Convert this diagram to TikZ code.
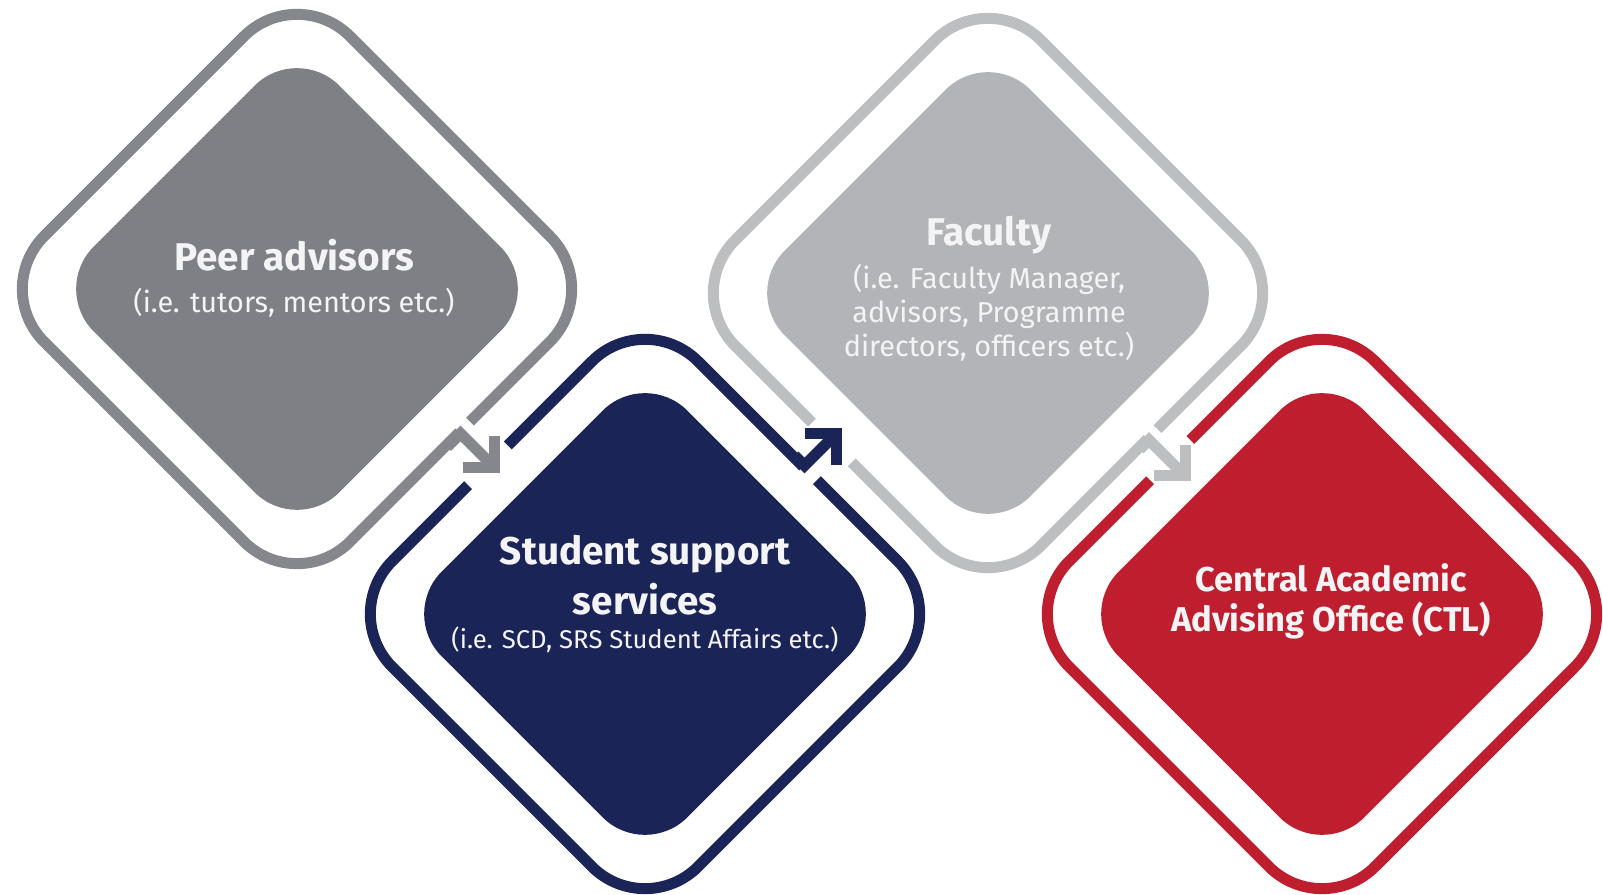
\documentclass[tikz,border=0pt]{standalone}
\usepackage{fontspec}
\setmainfont{Fira Sans}
\usetikzlibrary{shapes.geometric,arrows.meta}
\definecolor{peergray}{HTML}{7E8086}
\definecolor{peerring}{HTML}{85878C}
\definecolor{sssnavy}{HTML}{1B2456}
\definecolor{facgray}{HTML}{B2B4B7}
\definecolor{facring}{HTML}{BCBEC0}
\definecolor{ctlred}{HTML}{BE1E2D}
\definecolor{boxwhite}{HTML}{F4F4F6}
\newcommand\boxhead[1]{{\bfseries\fontsize{11}{14}\selectfont #1}}
\newcommand\tightlines{\lineskiplimit-20pt\relax}
\tikzset{
  ring/.style={diamond, draw=#1, line width=1.1mm, minimum size=61.6mm, inner sep=0pt, rounded corners=7.5mm},
  core/.style={diamond, fill=#1, minimum size=49.2mm, inner sep=0pt, rounded corners=6mm},
  boxtext/.style={text=boxwhite, align=center, inner sep=0pt, font=\fontsize{8.2}{9.7}\selectfont\tightlines},
  ringgap/.style={white, line width=1.6mm},
  flow/.style={draw=#1, line width=1.1mm, line join=miter, -{Straight Barb[length=2.2mm, width=4.4mm, sharp]}}
}
\begin{document}
\begin{tikzpicture}[x=0.1mm, y=-0.1mm]
  \useasboundingbox (0,0) rectangle (1603,895);
  % outer rings
  \node[ring=peerring] (peer-ring) at (297,289) {};
  \node[ring=sssnavy] (sss-ring) at (645,614) {};
  \node[ring=facring] (fac-ring) at (988,293) {};
  \node[ring=ctlred] (ctl-ring) at (1322,614) {};
  % inner boxes
  \node[core=peergray] (peer) at (297,289) {};
  \node[core=sssnavy] (sss) at (645,614) {};
  \node[core=facgray] (fac) at (988,293) {};
  \node[core=ctlred] (ctl) at (1322,614) {};
  % openings in the rings
  \draw[ringgap] (460.5,433.5) -- (471,423);
  \draw[ringgap] (467,484) -- (506.5,444.5);
  \draw[ringgap] (804.5,465.5) -- (818,479);
  \draw[ringgap] (811,424) -- (850.5,463.5);
  \draw[ringgap] (1149,440) -- (1158.5,430.5);
  \draw[ringgap] (1149,479) -- (1189,439);
  % arrows
  \coordinate (p-in) at (447,447);
  \coordinate (p-bend) at (460.5,433.5);
  \coordinate (p-tip) at (500,473);
  \coordinate (s-in) at (794.5,455.5);
  \coordinate (s-bend) at (804.5,465.5);
  \coordinate (s-tip) at (841.5,428.5);
  \coordinate (f-in) at (1139.5,449.5);
  \coordinate (f-bend) at (1149,440);
  \coordinate (f-tip) at (1190.5,481.5);
  \draw[flow=peerring] (p-in) -- (p-bend) -- (p-tip);
  \draw[flow=sssnavy] (s-in) -- (s-bend) -- (s-tip);
  \draw[flow=facring] (f-in) -- (f-bend) -- (f-tip);
  % texts
  \node[boxtext] (peer-txt) at (294,278) {\boxhead{Peer advisors}\\[2.3pt] (i.e. tutors, mentors etc.)};
  \node[boxtext, font=\fontsize{7.3}{9.7}\selectfont\tightlines] (sss-txt) at (645,594) {\boxhead{Student support}\\[4.5pt] \boxhead{services}\\ (i.e. SCD, SRS Student Affairs etc.)};
  \node[boxtext] (fac-txt) at (989,289) {\boxhead{Faculty}\\[2.5pt] (i.e. Faculty Manager,\\ advisors, Programme\\ directors, officers etc.)};
  \node[boxtext, font=\bfseries\fontsize{9.8}{11.4}\selectfont\tightlines] (ctl-txt) at (1331,601) {Central Academic\\ Advising Office (CTL)};
\end{tikzpicture}
\end{document}
